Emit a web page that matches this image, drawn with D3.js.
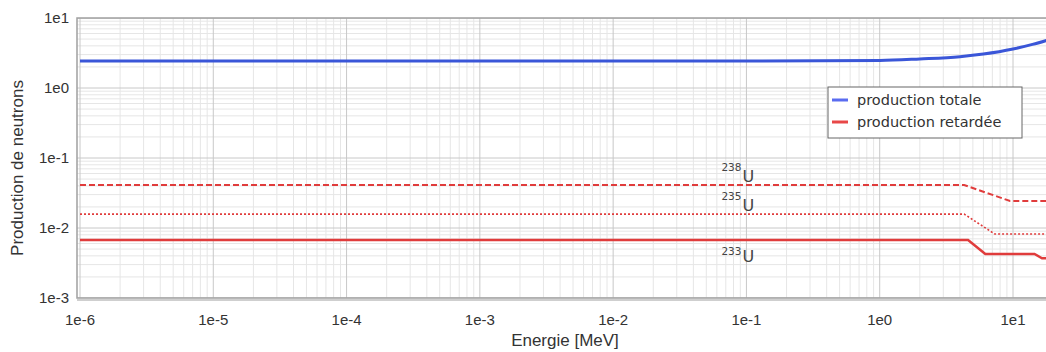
<!DOCTYPE html>
<html>
<head>
<meta charset="utf-8">
<script src="https://cdn.jsdelivr.net/npm/d3@7"></script>
<style>
  body { margin: 0; background: #fff; }
  text { font-family: "Liberation Sans", Arial, sans-serif; }
</style>
</head>
<body>
<svg></svg>
<script>
// energies in MeV, neutron yields per fission
var totalE   = [1e-6, 0.1, 1, 2, 4, 6, 10, 14, 20];
var totalNu  = [2.43, 2.43, 2.47, 2.6, 2.8, 3.05, 3.6, 4.2, 5.1];

var u238E = [1e-6, 4.3, 9.5, 20];
var u238  = [0.0411, 0.0411, 0.0243, 0.0243];
var u235E = [1e-6, 4.3, 7.3, 20];
var u235  = [0.0158, 0.0158, 0.0082, 0.0082];
var u233E = [1e-6, 4.6, 6.2, 14.5, 16.5, 20];
var u233  = [0.00674, 0.00674, 0.00425, 0.00425, 0.0037, 0.0037];

var xTicks = [1e-6, 1e-5, 1e-4, 1e-3, 1e-2, 1e-1, 1, 10];
var xLabels = ["1e-6", "1e-5", "1e-4", "1e-3", "1e-2", "1e-1", "1e0", "1e1"];
var yTicks = [10, 1, 0.1, 0.01, 0.001];
var yLabels = ["1e1", "1e0", "1e-1", "1e-2", "1e-3"];

var legendNames = ["production totale", "production retard\u00e9e"];
var isotopes = [{mass: "238", y: 0.0411}, {mass: "235", y: 0.0158}, {mass: "233", y: 0.00674}];

var screen = {width: 1046, height: 352};
var plot = {left: 77, top: 18, right: 1060, bottom: 298};

var svg = d3.select("svg")
    .attr("width", screen.width)
    .attr("height", screen.height);

var xScale = d3.scaleLog().domain([1e-6, 10]).range([80, 1013]);
var yScale = d3.scaleLog().domain([0.001, 10]).range([298, 18]);

svg.append("defs").append("clipPath").attr("id", "clip")
    .append("rect")
    .attr("x", plot.left).attr("y", plot.top)
    .attr("width", plot.right - plot.left).attr("height", plot.bottom - plot.top);

// grid
var minorX = [], minorY = [];
for (var e = -6; e <= 1; e++) {
    for (var m = 2; m <= 9; m++) {
        minorX.push(m * Math.pow(10, e));
    }
}
for (var e = -3; e <= 0; e++) {
    for (var m = 2; m <= 9; m++) {
        minorY.push(m * Math.pow(10, e));
    }
}

var grid = svg.append("g").attr("clip-path", "url(#clip)");
grid.selectAll(".mx").data(minorX).enter().append("line")
    .attr("x1", d => xScale(d)).attr("x2", d => xScale(d))
    .attr("y1", plot.top).attr("y2", plot.bottom)
    .attr("stroke", "#e6e6e6").attr("stroke-width", 1);
grid.selectAll(".my").data(minorY).enter().append("line")
    .attr("x1", plot.left).attr("x2", plot.right)
    .attr("y1", d => yScale(d)).attr("y2", d => yScale(d))
    .attr("stroke", "#e6e6e6").attr("stroke-width", 1);
grid.selectAll(".Mx").data(xTicks).enter().append("line")
    .attr("x1", d => xScale(d)).attr("x2", d => xScale(d))
    .attr("y1", plot.top).attr("y2", plot.bottom)
    .attr("stroke", "#c8c8c8").attr("stroke-width", 1);
grid.selectAll(".My").data(yTicks).enter().append("line")
    .attr("x1", plot.left).attr("x2", plot.right)
    .attr("y1", d => yScale(d)).attr("y2", d => yScale(d))
    .attr("stroke", "#c8c8c8").attr("stroke-width", 1);

// frame
svg.append("rect")
    .attr("x", plot.left).attr("y", plot.top)
    .attr("width", plot.right - plot.left).attr("height", plot.bottom - plot.top)
    .attr("fill", "none").attr("stroke", "#a0a0a0").attr("stroke-width", 1.5);
svg.append("line")
    .attr("x1", plot.left).attr("x2", plot.right)
    .attr("y1", plot.bottom + 2).attr("y2", plot.bottom + 2)
    .attr("stroke", "#cfcfcf").attr("stroke-width", 2);

// series
var line = d3.line()
    .x(d => xScale(d[0]))
    .y(d => yScale(d[1]));

var lines = svg.append("g").attr("clip-path", "url(#clip)");

lines.append("path")
    .datum(d3.zip(totalE, totalNu))
    .attr("d", line.curve(d3.curveMonotoneX))
    .attr("fill", "none").attr("stroke", "#3a56d8").attr("stroke-width", 3);

line.curve(d3.curveLinear);
lines.append("path")
    .datum(d3.zip(u238E, u238))
    .attr("d", line)
    .attr("fill", "none").attr("stroke", "#e03c3c").attr("stroke-width", 2)
    .attr("stroke-dasharray", "6,3");
lines.append("path")
    .datum(d3.zip(u235E, u235))
    .attr("d", line)
    .attr("fill", "none").attr("stroke", "#e03c3c").attr("stroke-width", 1.6)
    .attr("stroke-dasharray", "2,2");
lines.append("path")
    .datum(d3.zip(u233E, u233))
    .attr("d", line)
    .attr("fill", "none").attr("stroke", "#e03c3c").attr("stroke-width", 2.5);

// isotope labels
var iso = svg.append("g").selectAll("g").data(isotopes).enter().append("g");
iso.append("text")
    .attr("x", xScale(0.1) - 5)
    .attr("y", d => yScale(d.y) - (d.mass === "233" ? -15 : 14))
    .attr("text-anchor", "end")
    .style("font-family", "'DejaVu Sans', sans-serif")
    .attr("font-size", 10.5).attr("fill", "#444")
    .text(d => d.mass);
iso.append("text")
    .attr("x", xScale(0.1) - 4)
    .attr("y", d => yScale(d.y) - (d.mass === "233" ? -22 : 3))
    .style("font-family", "'DejaVu Sans', sans-serif")
    .attr("font-size", 16).attr("fill", "#444")
    .text("U");

// axes labels
svg.append("g").selectAll("text").data(xTicks).enter().append("text")
    .attr("x", d => xScale(d)).attr("y", 325)
    .attr("text-anchor", "middle").attr("font-size", 15).attr("fill", "#333")
    .text((d, i) => xLabels[i]);
svg.append("g").selectAll("text").data(yTicks).enter().append("text")
    .attr("x", 69).attr("y", d => yScale(d) + 5)
    .attr("text-anchor", "end").attr("font-size", 15).attr("fill", "#333")
    .text((d, i) => yLabels[i]);

svg.append("text")
    .attr("x", 565).attr("y", 346)
    .attr("text-anchor", "middle").attr("font-size", 17).attr("fill", "#333")
    .text("Energie [MeV]");
svg.append("text")
    .attr("transform", "translate(23,168) rotate(-90)")
    .attr("text-anchor", "middle").attr("font-size", 17).attr("fill", "#333")
    .text("Production de neutrons");

// legend
var legend = svg.append("g").attr("transform", "translate(828,87)");
legend.append("rect")
    .attr("width", 194).attr("height", 51)
    .attr("fill", "#fff").attr("stroke", "#666").attr("stroke-width", 1);
var items = legend.selectAll(".item").data(legendNames).enter().append("g")
    .attr("transform", (d, i) => "translate(0," + (13 + i * 22) + ")");
items.append("line")
    .attr("x1", 4).attr("x2", 20)
    .attr("stroke", (d, i) => i === 0 ? "#5a6cf0" : "#e84848")
    .attr("stroke-width", 3);
items.append("text")
    .attr("x", 29).attr("y", 5)
    .style("font-family", "'DejaVu Sans', sans-serif")
    .attr("font-size", 14.5).attr("fill", "#333")
    .text(d => d);
</script>
</body>
</html>
